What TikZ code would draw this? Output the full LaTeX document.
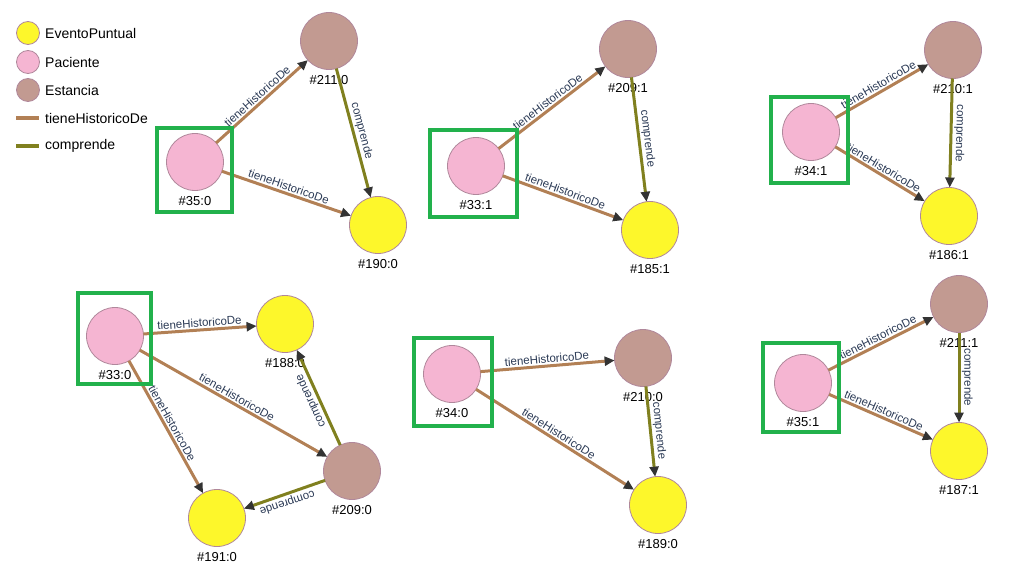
\documentclass[tikz,border=0pt]{standalone}
\usepackage{fontspec}
\setmainfont{Liberation Sans}
\usetikzlibrary{arrows.meta}
\definecolor{evy}{HTML}{FDF72B}
\definecolor{pac}{HTML}{F5B5D2}
\definecolor{est}{HTML}{C29A91}
\definecolor{nstroke}{HTML}{B0879B}
\definecolor{thc}{HTML}{B28055}
\definecolor{cmc}{HTML}{80801F}
\definecolor{gbox}{HTML}{22B14C}
\definecolor{arrowc}{HTML}{333333}
\definecolor{labc}{HTML}{2B3A55}
\tikzset{
  gnode/.style={circle, minimum size=57pt, inner sep=0pt, outer sep=0pt, draw=nstroke, line width=0.8pt,
    label={[label distance=2pt, font=\fontsize{13}{15}\selectfont, text=black]below:#1}},
  nev/.style={gnode=#1, fill=evy},
  npa/.style={gnode=#1, fill=pac},
  nes/.style={gnode=#1, fill=est},
  thedge/.style={draw=thc, line width=3pt, allow upside down, -{Triangle[length=10pt, width=9pt, color=arrowc]}},
  cmedge/.style={draw=cmc, line width=3pt, allow upside down, -{Triangle[length=10pt, width=9pt, color=arrowc]}},
  elab/.style={midway, sloped, allow upside down, above, inner sep=1.5pt, text=labc, font=\fontsize{11.5}{13}\selectfont},
  hl/.style={draw=gbox, line width=4.5pt},
  legc/.style={circle, minimum size=23pt, inner sep=0pt, draw=nstroke, line width=0.8pt},
  legt/.style={anchor=west, inner sep=0pt, font=\fontsize{14}{16}\selectfont},
  legl/.style={line width=4.5pt}
}
\begin{document}
\begin{tikzpicture}[x=1pt, y=-1pt]
\useasboundingbox (0,0) rectangle (1011,583);
% legend
\node[legc, fill=evy] (l1) at (28,33) {};
\node[legt] (t1) at (45,33) {EventoPuntual};
\node[legc, fill=pac] (l2) at (28,62) {};
\node[legt] (t2) at (45,62) {Paciente};
\node[legc, fill=est] (l3) at (28,90) {};
\node[legt] (t3) at (45,90) {Estancia};
\coordinate (a1) at (16,118); \coordinate (b1) at (39,118);
\draw[legl, thc] (a1) -- (b1);
\node[legt] (t4) at (45,118) {tieneHistoricoDe};
\coordinate (a2) at (16,146); \coordinate (b2) at (39,146);
\draw[legl, cmc] (a2) -- (b2);
\node[legt] (t5) at (45,146) {comprende};

% cluster 1
\node[npa={\#35:0}] (p350) at (195,162) {};
\node[nes={\#211:0}] (s2110) at (329,41) {};
\node[nev={\#190:0}] (e1900) at (378,225) {};
\draw[thedge] (p350) -- node[elab] {tieneHistoricoDe} (s2110);
\draw[thedge] (p350) -- node[elab] {tieneHistoricoDe} (e1900);
\draw[cmedge] (s2110) -- node[elab] {comprende} (e1900);
\draw[hl] (157,128) rectangle (232,212);

% cluster 2
\node[npa={\#33:1}] (p331) at (476,166) {};
\node[nes={\#209:1}] (s2091) at (628,49) {};
\node[nev={\#185:1}] (e1851) at (650,230) {};
\draw[thedge] (p331) -- node[elab] {tieneHistoricoDe} (s2091);
\draw[thedge] (p331) -- node[elab] {tieneHistoricoDe} (e1851);
\draw[cmedge] (s2091) -- node[elab] {comprende} (e1851);
\draw[hl] (430,130) rectangle (517,217);

% cluster 3
\node[npa={\#34:1}] (p341) at (811,132) {};
\node[nes={\#210:1}] (s2101) at (953,50) {};
\node[nev={\#186:1}] (e1861) at (949,216) {};
\draw[thedge] (p341) -- node[elab] {tieneHistoricoDe} (s2101);
\draw[thedge] (p341) -- node[elab] {tieneHistoricoDe} (e1861);
\draw[cmedge] (s2101) -- node[elab] {comprende} (e1861);
\draw[hl] (771,97) rectangle (848,183);

% cluster 4
\node[npa={\#33:0}] (p330) at (115,336) {};
\node[nev={\#188:0}] (e1880) at (285,324) {};
\node[nes={\#209:0}] (s2090) at (352,471) {};
\node[nev={\#191:0}] (e1910) at (217,518) {};
\draw[thedge] (p330) -- node[elab] {tieneHistoricoDe} (e1880);
\draw[thedge] (p330) -- node[elab] {tieneHistoricoDe} (s2090);
\draw[thedge] (p330) -- node[elab] {tieneHistoricoDe} (e1910);
\draw[cmedge] (s2090) -- node[elab] {comprende} (e1880);
\draw[cmedge] (s2090) -- node[elab] {comprende} (e1910);
\draw[hl] (78,293) rectangle (151,384);

% cluster 5
\node[npa={\#34:0}] (p340) at (452,374) {};
\node[nes={\#210:0}] (s2100) at (643,358) {};
\node[nev={\#189:0}] (e1890) at (658,505) {};
\draw[thedge] (p340) -- node[elab] {tieneHistoricoDe} (s2100);
\draw[thedge] (p340) -- node[elab] {tieneHistoricoDe} (e1890);
\draw[cmedge] (s2100) -- node[elab] {comprende} (e1890);
\draw[hl] (414,338) rectangle (492,426);

% cluster 6
\node[npa={\#35:1}] (p351) at (803,383) {};
\node[nes={\#211:1}] (s2111) at (959,304) {};
\node[nev={\#187:1}] (e1871) at (959,451) {};
\draw[thedge] (p351) -- node[elab] {tieneHistoricoDe} (s2111);
\draw[thedge] (p351) -- node[elab] {tieneHistoricoDe} (e1871);
\draw[cmedge] (s2111) -- node[elab] {comprende} (e1871);
\draw[hl] (763,343) rectangle (839,432);
\end{tikzpicture}
\end{document}
